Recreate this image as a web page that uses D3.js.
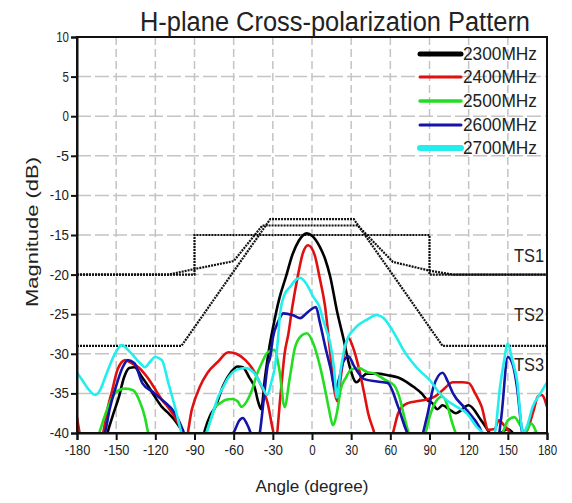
<!DOCTYPE html>
<html><head><meta charset="utf-8">
<script src="https://cdn.jsdelivr.net/npm/d3@7"></script>
<style>
html,body{margin:0;padding:0;background:#fff;}
svg text{font-family:"Liberation Sans Narrow","Arial Narrow","Liberation Sans",sans-serif;fill:#222;}
</style></head>
<body><svg id="c" width="572" height="503"></svg>
<script>
// ---------- data ----------
const title = "H-plane Cross-polarization Pattern";
const xTicks = [-180,-150,-120,-90,-60,-30,0,30,60,90,120,150,180];
const yTicks = [10,5,0,-5,-10,-15,-20,-25,-30,-35,-40];
const seriesNames = ["2300MHz","2400MHz","2500MHz","2600MHz","2700MHz"];
const seriesColors = ["#000000","#e01010","#22dd22","#1414a8","#22eeee"];

const ang2300 = [-180,-160,-156,-152,-148,-144,-140,-136,-130,-125,-120,-115,-110,-105,-100,-95,-90,-85,-82,-78,-74,-68,-62,-57,-53,-48,-44,-41,-39,-36,-33,-30,-25,-20,-15,-10,-4,0,6,10,14,19,24,29,34,38,42,50,58,66,72,78,84,88,92,96,100,105,110,120,130,140,150,160,170,180];
const mag2300 = [-43,-42,-39.6,-37.5,-35.5,-33,-31.8,-31.7,-33,-34.2,-35.5,-36.7,-37.5,-38.4,-39.6,-41,-42,-41.5,-39.6,-37.8,-36.7,-34,-32.3,-31.6,-31.7,-33,-34.2,-36.2,-37,-33,-29.5,-26.8,-23,-20.3,-17.5,-15.7,-14.8,-15.1,-16.5,-18,-20.3,-24.5,-28,-31.7,-33.6,-33,-32.5,-32.5,-32.7,-33,-33.5,-34.2,-35,-35.8,-36.2,-37,-36.5,-37,-37.5,-36.5,-38.5,-40.5,-39.5,-41,-40,-41];

const ang2400 = [-180,-178,-174,-165,-160,-156,-153,-149,-143,-138,-133,-126,-120,-115,-110,-105,-100,-97,-92,-86,-80,-72,-64,-58,-51,-46,-41,-34,-30,-28,-24,-21,-18,-15,-11,-7,-3,2,6,10,14,17,19.5,22,25,28,31,35,40,43,47,52,58,62,66,69,74,80,87,94,100,108,115,120,125,130,135,140,143,147,152,158,165,170,173,176,180];
const mag2400 = [-38,-40,-42,-43,-40,-36.5,-34.6,-32,-30.8,-31.2,-31.7,-33,-34.5,-35.8,-36.8,-38,-39.6,-41,-37,-34.2,-32.4,-31,-29.8,-30,-30.8,-31.8,-33.3,-36.2,-39.6,-41,-35,-30,-27.4,-24,-20.3,-17.3,-16.3,-17.5,-20.5,-24,-30,-34.5,-36,-33,-29.5,-28,-29,-31.2,-35,-37.5,-39.6,-42,-42,-40,-37.5,-36.7,-36.2,-36,-35.8,-35.4,-34.6,-33.6,-33.6,-33.7,-35,-36.7,-39.6,-39.5,-38.4,-39,-40,-41,-39.6,-37,-35.4,-35.2,-36.7];

const ang2500 = [-180,-170,-163,-158,-153,-148,-143,-137,-132,-128,-126,-120,-110,-100,-90,-84,-81,-77,-74,-70,-66,-61,-57,-54,-50,-46,-42,-38,-34,-29,-25,-21,-17,-13,-8,-4,1,6,10,13,16,19,22,26,30,36,42,48,56,63,67,70,74,80,86,90,95,100,104,107,110,120,130,140,146,150,155,160,163,168,172,176,180];
const mag2500 = [-45,-43,-40,-37.5,-35.5,-34.6,-34.4,-34.6,-36,-38,-39.6,-43,-46,-46,-44,-41.5,-40,-38,-36.7,-36.2,-35.8,-35.7,-36,-36.7,-36,-34.6,-32.5,-31,-29.8,-29.5,-32,-36.7,-33,-29.2,-27.7,-27.4,-28.7,-31.5,-34.5,-37,-39,-37.5,-34.5,-33,-32,-31.8,-32.3,-32.5,-33.3,-34,-35.5,-37.5,-40,-41.5,-40.5,-38,-36,-35.4,-36.7,-38.5,-40,-43,-44,-42,-40,-38.4,-38,-39.2,-40,-38.8,-40,-42,-43];

const ang2600 = [-180,-165,-158,-155,-151,-145,-141,-136,-130,-122,-115,-105,-99,-90,-80,-70,-62,-59,-56,-53,-50,-47,-44,-40,-37,-34,-32,-30,-26,-22,-15,-9,-5,-1.5,3,6,10,14,18,21,24,28,32,40,50,58,66,72,80,88,93,100,104,108,118,128,133,140,145,150,154,157,161,165,170,175,180];
const mag2600 = [-46,-43,-39.6,-37,-34.6,-31.7,-30.8,-31.2,-33.7,-34.8,-35.8,-37.5,-39.6,-44,-46,-44,-40.5,-39.6,-38.5,-38.1,-38.8,-40,-42,-40,-35.8,-31.5,-30.4,-28,-26,-24.9,-25.1,-25.5,-25,-24.5,-24.1,-26,-29,-31.7,-34.5,-33,-31,-30.3,-31.5,-33.2,-33.5,-33.7,-36.7,-39.6,-42,-38,-34.2,-32.4,-33.5,-35,-37,-39.2,-41,-43,-38,-30.4,-31.5,-34.2,-40,-42,-41,-43,-44];

const ang2700 = [-180,-176,-171.6,-166,-162,-158.5,-155,-151,-145.5,-141,-138,-131.7,-128,-124,-120,-115,-110,-105,-100,-95,-90,-85,-80,-76,-72,-68,-64,-57.5,-51,-45,-38,-34.5,-31,-28,-26,-24.5,-21,-17,-12,-9,-5,1,6,8.5,11,14,17,19,22,25,28,31.6,36,42,49.6,55,60,65,70,80,90,100.5,111,118.5,126,131,136,140,144,147,150,153,157,161.6,165,169,175,180];
const mag2700 = [-32.4,-33.3,-34.4,-35.2,-34.5,-33,-31.5,-30,-28.9,-29.5,-30,-31.2,-31.7,-31,-30.4,-30.8,-33.7,-36.7,-40,-43,-44,-42,-39.6,-37.5,-35.5,-34.2,-33,-32,-31.8,-32.3,-34.2,-35.2,-33.5,-31.2,-28,-25,-22.5,-21.6,-20.6,-20.4,-21,-22.8,-24.2,-25.7,-27,-28.7,-32,-35.5,-32,-29.2,-27.8,-27,-26.3,-25.7,-25.1,-25.5,-26.6,-28,-29.5,-31.7,-33.3,-35.5,-36.7,-37.5,-39.2,-40,-41,-40,-34.2,-31,-28.7,-30.5,-33.3,-40,-39,-36.7,-35,-33.6];

// spec templates (dotted)
const ts1Ang = [-180,-90,-90,90,90,180];
const ts1Mag = [-20,-20,-15,-15,-20,-20];
const ts2Ang = [-180,-100,-32,32,100,180];
const ts2Mag = [-29,-29,-13,-13,-29,-29];
const ts3Ang = [-180,-110,-90,-60,-38,35,62,90,108,180];
const ts3Mag = [-20,-20,-19.3,-18.3,-13.8,-13.8,-18.4,-19.5,-20,-20];
const tsLabels = ["TS1","TS2","TS3"];
const tsLabelMag = [-18.4,-25.8,-32.2];

// ---------- drawing ----------
const svg = d3.select("#c");
const x = d3.scaleLinear().domain([-180,180]).range([77,547]);
const y = d3.scaleLinear().domain([-40,10]).range([433,37]);

svg.append("defs").append("clipPath").attr("id","clip")
  .append("rect").attr("x",77).attr("y",37).attr("width",470).attr("height",396);

// grid
const grid = svg.append("g");
grid.selectAll("line.v").data(xTicks.slice(1,-1)).join("line")
  .attr("x1",d=>x(d)).attr("x2",d=>x(d)).attr("y1",y(10)).attr("y2",y(-40))
  .attr("stroke","#c4c4c4").attr("stroke-width",1.5).attr("stroke-dasharray","8,4");
grid.selectAll("line.h").data(yTicks.slice(1,-1)).join("line")
  .attr("x1",x(-180)).attr("x2",x(180)).attr("y1",d=>y(d)).attr("y2",d=>y(d))
  .attr("stroke","#c4c4c4").attr("stroke-width",1.5).attr("stroke-dasharray","14,4");

const line = d3.line().x(d=>x(d[0])).y(d=>y(d[1]));
const plot = svg.append("g").attr("clip-path","url(#clip)");

// templates
[[ts1Ang,ts1Mag],[ts2Ang,ts2Mag],[ts3Ang,ts3Mag]].forEach(([a,m])=>{
  plot.append("path").datum(a.map((v,i)=>[v,m[i]]))
    .attr("d",line).attr("fill","none").attr("stroke","#111")
    .attr("stroke-width",2.2).attr("stroke-dasharray","2,1");
});

// series
const angs = [ang2300,ang2400,ang2500,ang2600,ang2700];
const mags = [mag2300,mag2400,mag2500,mag2600,mag2700];
const smooth = d3.line().x(d=>x(d[0])).y(d=>y(d[1])).curve(d3.curveMonotoneX);
[0,1,2,3,4].forEach(k=>{
  plot.append("path").datum(angs[k].map((v,i)=>[v,mags[k][i]]))
    .attr("d",smooth).attr("fill","none").attr("stroke",seriesColors[k])
    .attr("stroke-width",2.6).attr("stroke-linejoin","round");
});

// frame
svg.append("rect").attr("x",77).attr("y",37).attr("width",470).attr("height",396)
  .attr("fill","none").attr("stroke","#111").attr("stroke-width",2);

// axes
const fmt = d => String(d);
const xAxis = d3.axisBottom(x).tickValues(xTicks).tickSize(7).tickPadding(5).tickFormat(fmt);
const gx = svg.append("g").attr("transform","translate(0,433)").call(xAxis);
const yAxis = d3.axisLeft(y).tickValues(yTicks).tickSize(6).tickPadding(2).tickFormat(fmt);
const gy = svg.append("g").attr("transform","translate(77,0)").call(yAxis);
[gx,gy].forEach(g=>{
  g.select(".domain").attr("stroke","#111").attr("stroke-width",2);
  g.selectAll(".tick line").attr("stroke","#111").attr("stroke-width",2);
  g.selectAll("text").attr("font-size",14).attr("fill","#222")
   .attr("textLength",d=>String(d).length*6.4).attr("lengthAdjust","spacingAndGlyphs")
   .style("font-family",'"Liberation Sans Narrow","Arial Narrow","Liberation Sans",sans-serif');
});

// TS labels
svg.selectAll("text.ts").data(tsLabels).join("text")
  .attr("x",544).attr("y",(d,i)=>y(tsLabelMag[i])).attr("text-anchor","end")
  .attr("font-size",18).attr("textLength",30).attr("lengthAdjust","spacingAndGlyphs").text(d=>d);

// legend
const leg = svg.append("g");
const legY = [54,77,101,125,148];
const legW = [5,3,3.5,3,6];
seriesNames.forEach((n,i)=>{
  leg.append("line").attr("x1",420).attr("x2",461).attr("y1",legY[i]).attr("y2",legY[i])
    .attr("stroke",seriesColors[i]).attr("stroke-width",legW[i]).attr("stroke-linecap","round");
  leg.append("text").attr("x",463).attr("y",legY[i]+6).attr("font-size",18)
    .attr("textLength",74).attr("lengthAdjust","spacingAndGlyphs").text(n);
});

// title & axis titles
svg.append("text").attr("x",335).attr("y",31).attr("text-anchor","middle")
  .attr("font-size",27).attr("textLength",390).attr("lengthAdjust","spacingAndGlyphs").text(title);
svg.append("text").attr("x",312).attr("y",492).attr("text-anchor","middle")
  .attr("font-size",17).attr("textLength",113).attr("lengthAdjust","spacingAndGlyphs").text("Angle (degree)");
svg.append("text").attr("transform","translate(38,232) rotate(-90)").attr("text-anchor","middle")
  .attr("font-size",17).attr("textLength",150).attr("lengthAdjust","spacingAndGlyphs").text("Magnitude (dB)");
</script></body></html>
